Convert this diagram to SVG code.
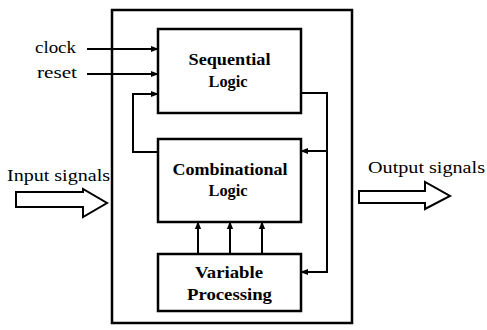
<svg xmlns="http://www.w3.org/2000/svg" width="487" height="330" viewBox="0 0 487 330">
<defs>
<style>
.box{fill:#fff;stroke:#000;stroke-width:2.5}
.ln{fill:none;stroke:#000;stroke-width:2}
.big{fill:#fff;stroke:#000;stroke-width:2}
.t{font-family:"Liberation Serif","Times New Roman",serif;font-size:16px;fill:#000}
.b{font-family:"Liberation Serif","Times New Roman",serif;font-size:16px;font-weight:bold;fill:#000;text-anchor:middle}
</style>
<marker id="ah" viewBox="0 0 10 10" refX="9" refY="5" markerWidth="4" markerHeight="4" orient="auto" markerUnits="strokeWidth">
<path d="M0,1 L10,5 L0,9 z" fill="#000"/>
</marker>
</defs>
<rect width="487" height="330" fill="#fff"/>
<g id="system">
<rect class="box" x="112" y="10" width="240" height="313"/>
</g>
<g id="sequential">
<rect class="box" x="158" y="29" width="143" height="84"/>
<text class="b" x="229.5" y="65" textLength="82" lengthAdjust="spacingAndGlyphs">Sequential</text>
<text class="b" x="228" y="87" textLength="39" lengthAdjust="spacingAndGlyphs">Logic</text>
</g>
<g id="combinational">
<rect class="box" x="158" y="139" width="143" height="83"/>
<text class="b" x="230" y="175" textLength="115" lengthAdjust="spacingAndGlyphs">Combinational</text>
<text class="b" x="228" y="196" textLength="39" lengthAdjust="spacingAndGlyphs">Logic</text>
</g>
<g id="variable">
<rect class="box" x="158" y="254" width="143" height="57"/>
<text class="b" x="229" y="278" textLength="68" lengthAdjust="spacingAndGlyphs">Variable</text>
<text class="b" x="229.5" y="300" textLength="85" lengthAdjust="spacingAndGlyphs">Processing</text>
</g>
<g id="labels">
<text class="t" x="35" y="53" textLength="41" lengthAdjust="spacingAndGlyphs">clock</text>
<text class="t" x="37" y="78" textLength="40" lengthAdjust="spacingAndGlyphs">reset</text>
<text class="t" x="7" y="181" textLength="103" lengthAdjust="spacingAndGlyphs">Input signals</text>
<text class="t" x="368" y="173" textLength="117" lengthAdjust="spacingAndGlyphs">Output signals</text>
</g>
<g id="input-arrow">
<path class="big" d="M16,192 L83,192 L83,189 L107,203 L83,217 L83,207 L16,207 Z"/>
</g>
<g id="output-arrow">
<path class="big" d="M359,191 L425,191 L425,182 L450,196 L425,209 L425,203 L359,203 Z"/>
</g>
<g id="connectors">
<line class="ln" x1="87" y1="49" x2="158" y2="49" marker-end="url(#ah)"/>
<line class="ln" x1="87" y1="74" x2="158" y2="74" marker-end="url(#ah)"/>
<polyline class="ln" points="158,152 133,152 133,94 158,94" marker-end="url(#ah)"/>
<polyline class="ln" points="301,93 327,93 327,272 301,272" marker-end="url(#ah)"/>
<line class="ln" x1="327" y1="151" x2="301" y2="151" marker-end="url(#ah)"/>
<line class="ln" x1="198" y1="254" x2="198" y2="222" marker-end="url(#ah)"/>
<line class="ln" x1="230" y1="254" x2="230" y2="222" marker-end="url(#ah)"/>
<line class="ln" x1="262" y1="254" x2="262" y2="222" marker-end="url(#ah)"/>
</g>
</svg>
